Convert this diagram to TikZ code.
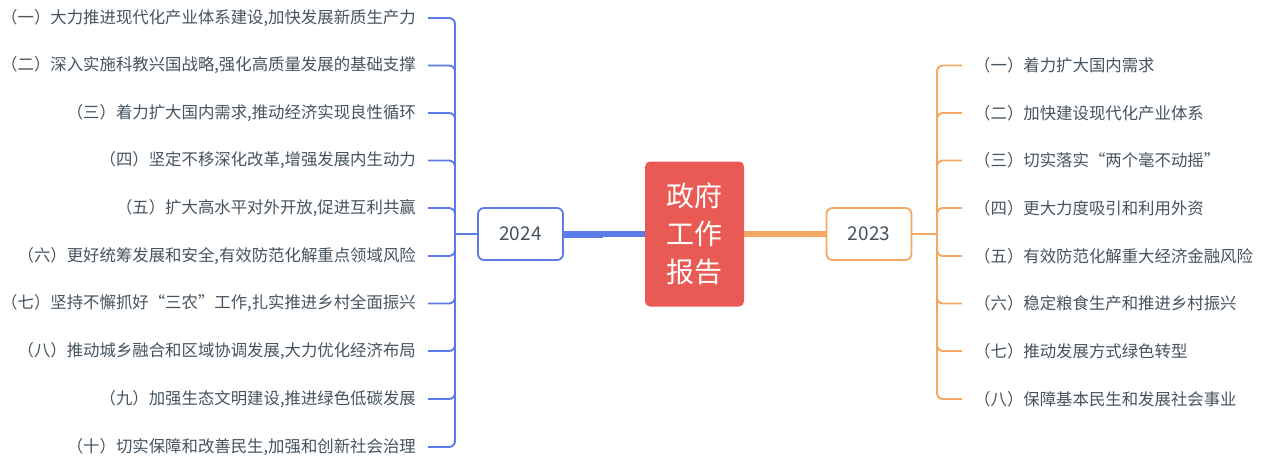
\documentclass[tikz,border=0pt]{standalone}
\usepackage{fontspec}
\newfontfamily\cjk{Noto Sans CJK SC}
\definecolor{blueline}{HTML}{5B7CE8}
\definecolor{orangeline}{HTML}{F2A763}
\definecolor{redbox}{HTML}{E85A53}
\definecolor{txt}{HTML}{45545F}
\tikzset{
  leaf/.style={inner sep=0pt, text=txt, font=\cjk\fontsize{16.4}{18}\selectfont},
  yearbox/.style={draw, line width=1.8pt, rounded corners=6pt, fill=white, minimum width=85pt, minimum height=52pt, inner sep=0pt, text=txt, font=\cjk\fontsize{19}{22}\selectfont},
  bluebr/.style={draw=blueline, line width=1.9pt, rounded corners=6pt},
  orangebr/.style={draw=orangeline, line width=1.9pt, rounded corners=6pt},
}
\begin{document}
\begin{tikzpicture}[x=1pt,y=-1pt]
\useasboundingbox (0,0) rectangle (1268,458);
% center
\node[fill=redbox, rounded corners=5pt, minimum width=99pt, minimum height=145pt, inner sep=0pt, text=white, align=center, font=\cjk\fontsize{28}{38}\selectfont] (root) at (694.5,234) {政府\\工作\\报告};
% year nodes
\node[yearbox, draw=blueline] (y24) at (520.5,234) {2024};
\node[yearbox, draw=orangeline] (y23) at (869,234) {2023};
\coordinate (hl) at (455,234);
\coordinate (hr) at (937,234);
\coordinate (m1) at (603,234);
% main connectors
\draw[blueline, line width=7pt] (y24.east) -- (m1);
\draw[blueline, line width=5.5pt] (m1) -- (root.west);
\draw[orangeline, line width=6pt] (root.east) -- (y23.west);
\draw[bluebr] (y24.west) -- (hl);
\draw[orangebr] (y23.east) -- (hr);
% left leaves
\foreach \i/\y/\t in {1/18/{（一）大力推进现代化产业体系建设,加快发展新质生产力},
  2/65.5/{（二）深入实施科教兴国战略,强化高质量发展的基础支撑},
  3/113/{（三）着力扩大国内需求,推动经济实现良性循环},
  4/160.5/{（四）坚定不移深化改革,增强发展内生动力},
  5/208/{（五）扩大高水平对外开放,促进互利共赢},
  6/256/{（六）更好统筹发展和安全,有效防范化解重点领域风险},
  7/303.5/{（七）坚持不懈抓好“三农”工作,扎实推进乡村全面振兴},
  8/351/{（八）推动城乡融合和区域协调发展,大力优化经济布局},
  9/399/{（九）加强生态文明建设,推进绿色低碳发展},
  10/447/{（十）切实保障和改善民生,加强和创新社会治理}}{
  \node[leaf, anchor=east] (l\i) at (416,\y) {\t};
  \coordinate (le\i) at (428,\y);
  \draw[bluebr] (hl) -- (455,\y) -- (le\i);
}
% right leaves
\foreach \i/\y/\t in {1/65.5/{（一）着力扩大国内需求},
  2/113/{（二）加快建设现代化产业体系},
  3/160.5/{（三）切实落实“两个毫不动摇”},
  4/208/{（四）更大力度吸引和利用外资},
  5/256/{（五）有效防范化解重大经济金融风险},
  6/303.5/{（六）稳定粮食生产和推进乡村振兴},
  7/351/{（七）推动发展方式绿色转型},
  8/399/{（八）保障基本民生和发展社会事业}}{
  \node[leaf, anchor=west] (r\i) at (974,\y) {\t};
  \coordinate (re\i) at (962,\y);
  \draw[orangebr] (hr) -- (937,\y) -- (re\i);
}
\end{tikzpicture}
\end{document}
